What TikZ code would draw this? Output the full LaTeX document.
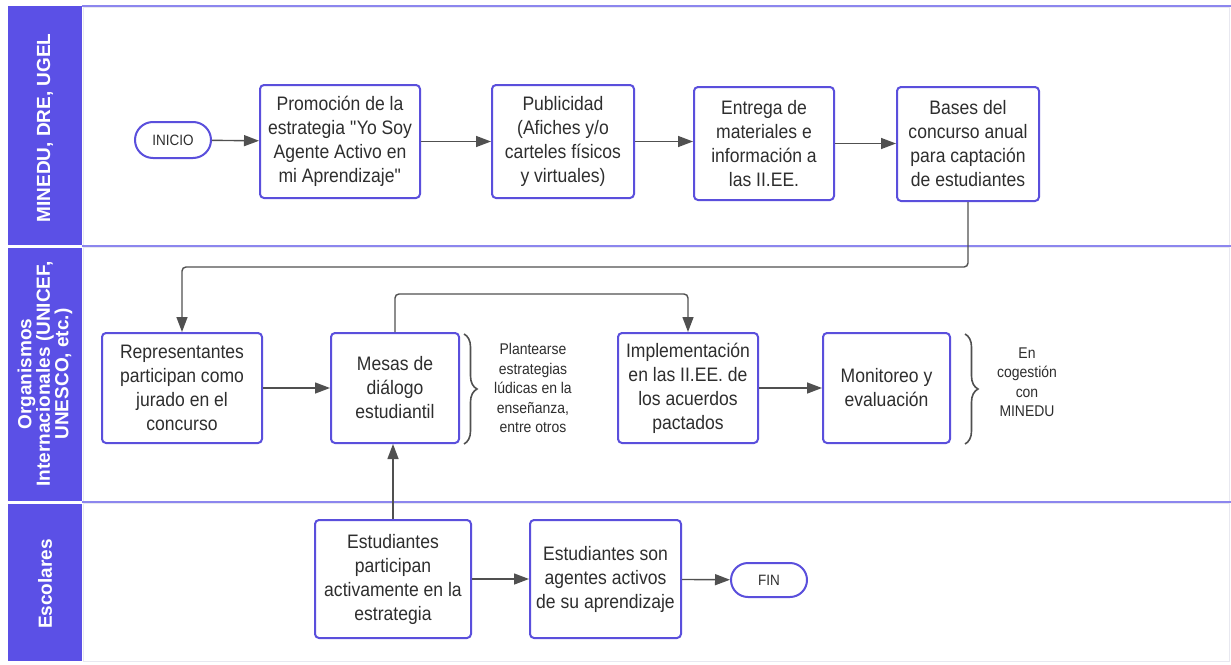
\documentclass[tikz,border=0pt]{standalone}
\usepackage{fontspec}
\setmainfont{Liberation Sans}[FakeStretch=0.9]
\newfontfamily\hdrfont{Liberation Sans}
\usetikzlibrary{arrows.meta,decorations.pathreplacing,shapes.misc}
\definecolor{hdrfill}{HTML}{5B50E6}
\definecolor{boxline}{HTML}{5A4FDC}
\definecolor{laneline}{HTML}{8C86EE}
\definecolor{lanefaint}{HTML}{E8E8F0}
\definecolor{arrowgray}{HTML}{505050}
\definecolor{txtgray}{HTML}{2E2E2E}
\tikzset{
  stepbox/.style={draw=boxline, line width=2pt, rounded corners=4pt, fill=white,
    align=center, text=txtgray, font=\fontsize{19.5}{24}\selectfont, inner sep=0pt},
  termbox/.style={draw=boxline, line width=2pt, rounded rectangle, fill=white,
    align=center, text=txtgray, font=\fontsize{15}{17}\selectfont, inner sep=0pt},
  notetxt/.style={align=center, text=txtgray, font=\fontsize{15.5}{19.5}\selectfont, inner sep=0pt},
  hdrtxt/.style={rotate=90, align=center, text=white, font=\hdrfont\bfseries\fontsize{19}{18.5}\selectfont, inner sep=0pt},
  arr/.style={draw=arrowgray, line width=1.4pt, -{Triangle[length=15pt,width=11pt]}, rounded corners=4pt},
  bracestyle/.style={draw=arrowgray, line width=1.6pt, decorate, decoration={brace, amplitude=13pt}},
}
\begin{document}
\begin{tikzpicture}[x=1pt,y=-1pt]
\useasboundingbox (0,0) rectangle (1231,664);
\fill[white] (0,0) rectangle (1231,664);
% lane bodies
\draw[lanefaint, line width=1pt] (83,7) rectangle (1229,246);
\draw[lanefaint, line width=1pt] (83,247) rectangle (1229,502);
\draw[lanefaint, line width=1pt] (83,503) rectangle (1229,661);
% lane lines
\draw[laneline, line width=2.4pt] (82,6) -- (1231,6);
\draw[laneline, line width=2.4pt] (82,246) -- (1231,246);
\draw[laneline, line width=2.4pt] (82,502) -- (1231,502);
% headers
\fill[hdrfill] (8,6) rectangle (82,245);
\fill[hdrfill] (8,248) rectangle (82,501);
\fill[hdrfill] (8,504) rectangle (82,661);
\node[hdrtxt] (h1) at (45,128) {MINEDU, DRE, UGEL};
\node[hdrtxt] (h2) at (45,374) {Organismos\\Internacionales (UNICEF,\\UNESCO, etc.)};
\node[hdrtxt] (h3) at (45,584) {Escolares};
% nodes lane 1
\node[termbox, minimum width=76pt, minimum height=36pt] (inicio) at (173,140) {INICIO};
\node[stepbox, minimum width=160pt, minimum height=113pt] (prom) at (340,141.5) {Promoción de la\\estrategia \textquotedbl Yo Soy\\Agente Activo en\\mi Aprendizaje\textquotedbl};
\node[stepbox, minimum width=142pt, minimum height=113pt] (pub) at (563,141.5) {Publicidad\\(Afiches y/o\\carteles físicos\\y virtuales)};
\node[stepbox, minimum width=140pt, minimum height=113pt] (ent) at (764,143.5) {Entrega de\\materiales e\\información a\\las II.EE.};
\node[stepbox, minimum width=142pt, minimum height=114pt] (bases) at (968,144) {Bases del\\concurso anual\\para captación\\de estudiantes};
% nodes lane 2
\node[stepbox, minimum width=160pt, minimum height=110pt] (rep) at (182,388) {Representantes\\participan como\\jurado en el\\concurso};
\node[stepbox, minimum width=128pt, minimum height=110pt] (mesas) at (395,388) {Mesas de\\diálogo\\estudiantil};
\node[notetxt] (note1) at (533,388) {Plantearse\\estrategias\\lúdicas en la\\enseñanza,\\entre otros};
\node[stepbox, minimum width=140pt, minimum height=110pt] (impl) at (688,388) {Implementación\\en las II.EE. de\\los acuerdos\\pactados};
\node[stepbox, minimum width=127pt, minimum height=110pt] (mon) at (886.5,388) {Monitoreo y\\evaluación};
\node[notetxt] (note2) at (1027,382) {En\\cogestión\\con\\MINEDU};
% nodes lane 3
\node[stepbox, minimum width=156pt, minimum height=118pt] (ep) at (393,579) {Estudiantes\\participan\\activamente en la\\estrategia};
\node[stepbox, minimum width=151pt, minimum height=118pt] (es) at (605.5,579) {Estudiantes son\\agentes activos\\de su aprendizaje};
\node[termbox, minimum width=76pt, minimum height=34pt] (fin) at (769,580) {FIN};
% braces
\draw[bracestyle] (464,334) -- (464,444);
\draw[bracestyle] (965,334) -- (965,444);
% connectors
\draw[arr] (inicio) -- (prom);
\draw[arr] (prom) -- (pub);
\draw[arr] (pub.east) -- (pub.east -| ent.west);
\draw[arr] (ent.east) -- (ent.east -| bases.west);
\draw[arr] (bases.south) -- ++(0,65) -| (rep.north);
\draw[arr] (rep) -- (mesas);
\draw[arr] (mesas.north) -- ++(0,-38) -| (impl.north);
\draw[arr] (impl) -- (mon);
\draw[arr] (ep.north) -- (ep.north |- mesas.south);
\draw[arr] (ep) -- (es);
\draw[arr] (es) -- (fin);
\end{tikzpicture}
\end{document}
